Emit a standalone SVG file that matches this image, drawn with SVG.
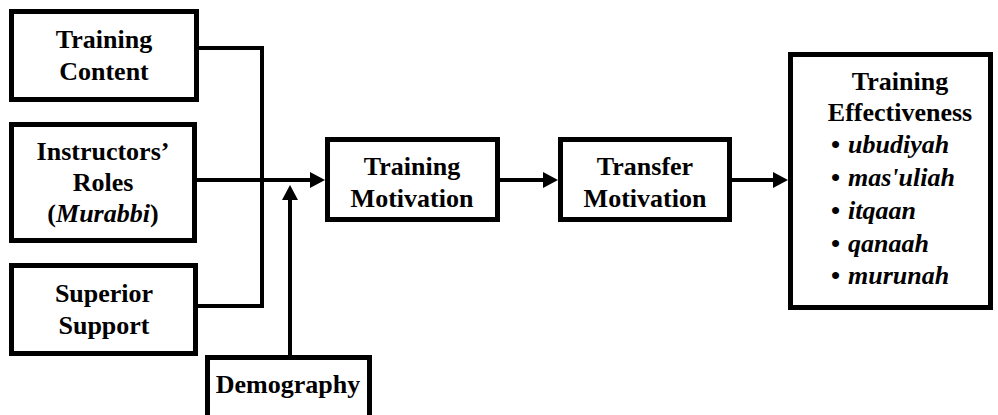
<svg xmlns="http://www.w3.org/2000/svg" width="998" height="415" viewBox="0 0 998 415">
  <style>
    .box { fill: #ffffff; stroke: #000000; stroke-width: 5; }
    .ln { fill: none; stroke: #000000; stroke-width: 4; }
    text { font-family: 'Liberation Serif', 'Times New Roman', serif; font-weight: bold; font-size: 26px; fill: #000000; }
    .c { text-anchor: middle; }
    .i { font-style: italic; }
  </style>
  <defs>
    <marker id="arr" markerUnits="userSpaceOnUse" markerWidth="15" markerHeight="16" refX="2" refY="8" orient="auto" overflow="visible">
      <path d="M0,0 L15,8 L0,16 z" fill="#000000"/>
    </marker>
  </defs>
  <rect width="998" height="415" fill="#ffffff"/>

  <g id="connectors">
    <polyline class="ln" points="199,48 262,48 262,306 198,306"/>
    <line class="ln" x1="197" y1="180" x2="312" y2="180" marker-end="url(#arr)"/>
    <line class="ln" x1="290" y1="355" x2="290" y2="198" marker-end="url(#arr)"/>
    <line class="ln" x1="500" y1="180" x2="545" y2="180" marker-end="url(#arr)"/>
    <line class="ln" x1="732" y1="180" x2="775" y2="180" marker-end="url(#arr)"/>
  </g>

  <g id="training-content">
    <rect class="box" x="11.5" y="11.5" width="185" height="88"/>
    <text class="c" x="104" y="48">Training</text>
    <text class="c" x="104" y="80">Content</text>
  </g>

  <g id="instructors-roles">
    <rect class="box" x="11.5" y="124.5" width="183" height="116"/>
    <text class="c" x="103" y="160">Instructors’</text>
    <text class="c" x="103" y="191">Roles</text>
    <text class="c" x="103" y="222">(<tspan class="i">Murabbi</tspan>)</text>
  </g>

  <g id="superior-support">
    <rect class="box" x="11.5" y="265.5" width="184" height="88"/>
    <text class="c" x="104" y="302">Superior</text>
    <text class="c" x="104" y="334">Support</text>
  </g>

  <g id="demography">
    <rect class="box" x="207.5" y="357.5" width="162" height="80"/>
    <text class="c" x="288" y="393">Demography</text>
  </g>

  <g id="training-motivation">
    <rect class="box" x="327.5" y="139.5" width="170" height="80"/>
    <text class="c" x="412" y="175">Training</text>
    <text class="c" x="412" y="207">Motivation</text>
  </g>

  <g id="transfer-motivation">
    <rect class="box" x="560.5" y="139.5" width="169" height="80"/>
    <text class="c" x="645" y="175">Transfer</text>
    <text class="c" x="645" y="207">Motivation</text>
  </g>

  <g id="training-effectiveness">
    <rect class="box" x="790.5" y="54.5" width="200" height="253"/>
    <text class="c" x="900" y="90">Training</text>
    <text class="c" x="900" y="121">Effectiveness</text>
    <text x="831" y="153">•<tspan class="i" x="848">ubudiyah</tspan></text>
    <text x="831" y="186">•<tspan class="i" x="848">mas'uliah</tspan></text>
    <text x="831" y="219">•<tspan class="i" x="848">itqaan</tspan></text>
    <text x="831" y="252">•<tspan class="i" x="848">qanaah</tspan></text>
    <text x="831" y="284">•<tspan class="i" x="848">murunah</tspan></text>
  </g>
</svg>
